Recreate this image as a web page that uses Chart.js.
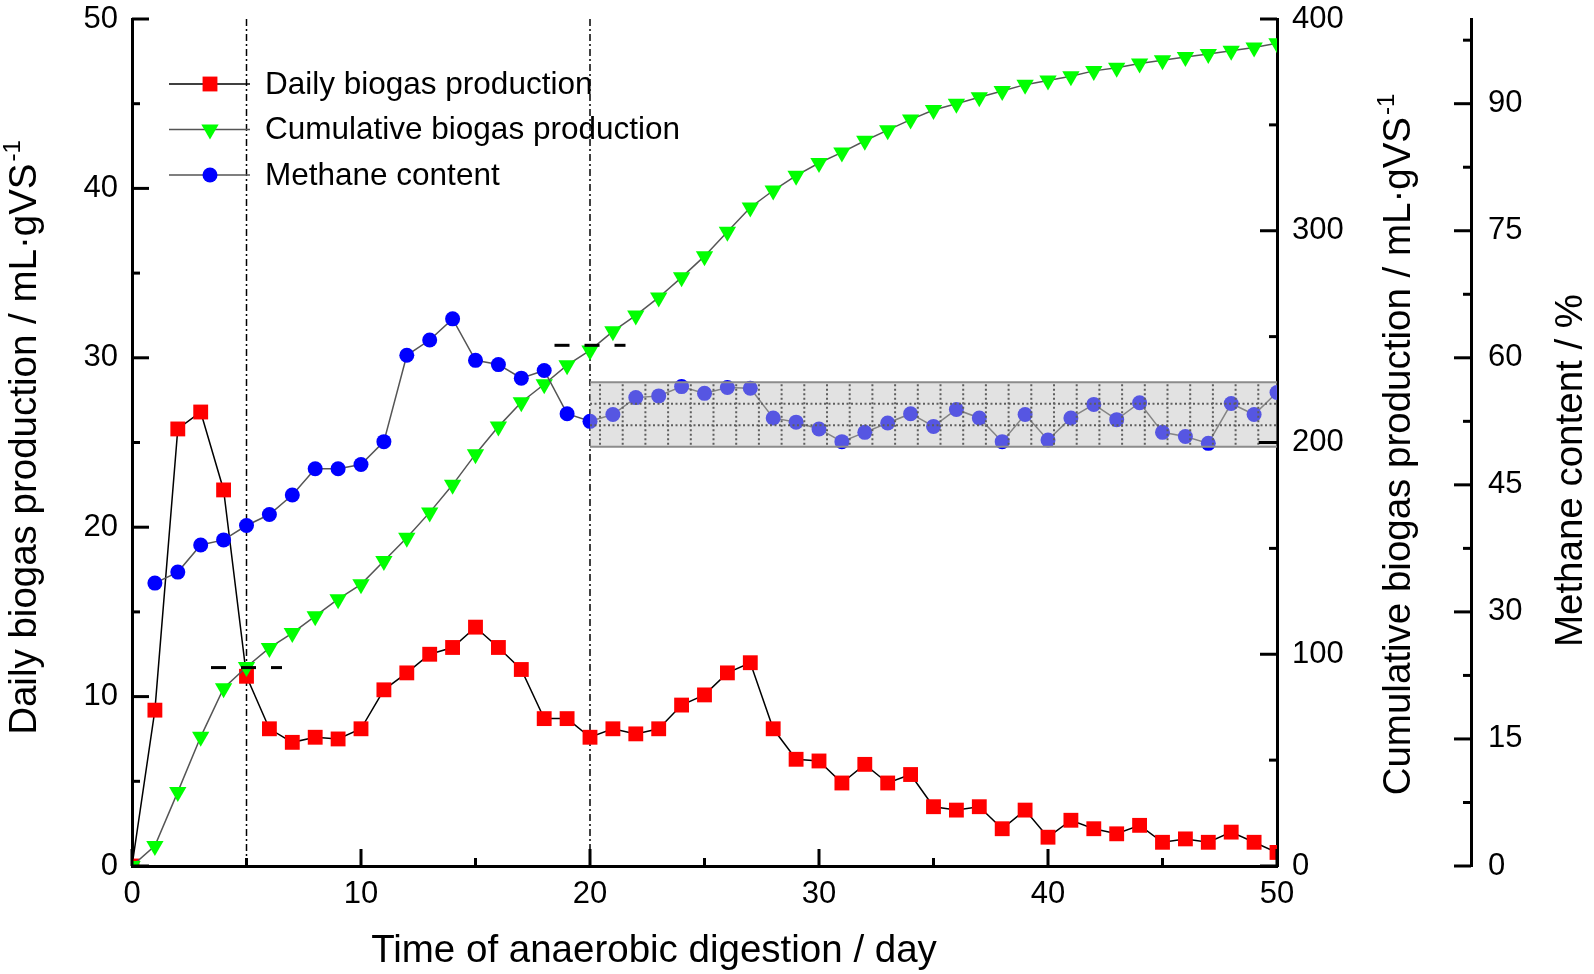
<!DOCTYPE html>
<html>
<head>
<meta charset="utf-8">
<script src="https://cdn.jsdelivr.net/npm/chart.js@4.4.0/dist/chart.umd.min.js"></script>
<style>
    html, body { margin: 0; padding: 0; background: #fff; }
    #wrap { width: 1594px; height: 974px; }
</style>
</head>
<body>
<div id="wrap"><canvas id="biogasChart"></canvas></div>
<script>
// data
const days = [0, 1, 2, 3, 4, 5, 6, 7, 8, 9, 10, 11, 12, 13, 14, 15, 16, 17, 18, 19, 20,
    21, 22, 23, 24, 25, 26, 27, 28, 29, 30, 31, 32, 33, 34, 35, 36, 37, 38, 39, 40,
    41, 42, 43, 44, 45, 46, 47, 48, 49, 50];
const dailyBiogas = [0, 9.2, 25.8, 26.8, 22.2, 11.2, 8.1, 7.3, 7.6, 7.5, 8.1,
    10.4, 11.4, 12.5, 12.9, 14.1, 12.9, 11.6, 8.7, 8.7, 7.6,
    8.1, 7.8, 8.1, 9.5, 10.1, 11.4, 12.0, 8.1, 6.3, 6.2,
    4.9, 6.0, 4.9, 5.4, 3.5, 3.3, 3.5, 2.2, 3.3, 1.7,
    2.7, 2.2, 1.9, 2.4, 1.4, 1.6, 1.4, 2.0, 1.4, 0.8];
const cumulativeBiogas = [0, 9.5, 35, 61, 84, 94, 103, 110, 118, 126, 133,
    144, 155, 167, 180, 194.5, 207.5, 219, 227.5, 236.5, 243.5,
    252.5, 260, 268.5, 278, 288, 299.5, 311, 319, 326, 332,
    337, 342.5, 347.5, 352.5, 357, 360, 363, 366, 369, 371,
    373, 375.5, 377, 379, 380.5, 382, 383.5, 385, 386.5, 388.5];
const methaneContent = [null, 33.4, 34.7, 37.9, 38.5, 40.2, 41.5, 43.8, 46.9, 46.9, 47.4,
    50.1, 60.3, 62.1, 64.6, 59.7, 59.2, 57.6, 58.5, 53.4, 52.5,
    53.3, 55.3, 55.5, 56.6, 55.8, 56.5, 56.4, 52.9, 52.4, 51.6,
    50.1, 51.2, 52.3, 53.4, 51.9, 53.9, 52.9, 50.1, 53.3, 50.3,
    52.9, 54.5, 52.7, 54.7, 51.2, 50.7, 49.9, 54.6, 53.3, 55.9];

// phase boundaries and the stable band
const phaseDays = [5, 20];
const phaseCumulative = [93.7, 245.9];
const stableDays = [20, 50];
const stableMethane = [49.5, 57.1];

// tick labels
const dayTicks = [0, 10, 20, 30, 40, 50];
const dailyTicks = [0, 10, 20, 30, 40, 50];
const cumulativeTicks = [0, 100, 200, 300, 400];
const methaneTicks = [0, 15, 30, 45, 60, 75, 90];

const seriesNames = [`Daily biogas production`, `Cumulative biogas production`, `Methane content`];
//
const FONT = `"Liberation Sans", Arial, sans-serif`;
const toPoints = (xs, ys) => xs.map((x, i) => ({ x: x, y: ys[i] }));

function setTicks(values) {
    return scale => { scale.ticks = values.map(v => ({ value: v })); };
}
// fixed axis width, no extra room for the end labels
function fixWidth(w) {
    return scale => {
        scale.width = w;
        scale.paddingTop = 0;
        scale.paddingBottom = 0;
    };
}

// grey patterned band drawn over the methane points
const stableBox = {
    id: `stableBox`,
    afterDatasetDraw(chart, args) {
        if (args.index !== 2) return;
        const { ctx } = chart;
        const xs = chart.scales.x, ys = chart.scales.y3;
        const left = xs.getPixelForValue(stableDays[0]);
        const right = xs.getPixelForValue(stableDays[1]);
        const top = ys.getPixelForValue(stableMethane[1]);
        const bottom = ys.getPixelForValue(stableMethane[0]);
        ctx.save();
        ctx.fillStyle = `rgba(190,190,190,0.45)`;
        ctx.fillRect(left, top, right - left, bottom - top);
        ctx.strokeStyle = `#5e5e5e`;
        ctx.lineWidth = 2;
        ctx.setLineDash([2, 2.5]);
        const h = (bottom - top) / 3;
        for (let k = 1; k < 3; k++) {
            ctx.beginPath();
            ctx.moveTo(left, top + k * h);
            ctx.lineTo(right, top + k * h);
            ctx.stroke();
        }
        for (let px = left + 10; px < right - 2; px += 22.7) {
            ctx.beginPath();
            ctx.moveTo(px, top + 2);
            ctx.lineTo(px, bottom);
            ctx.stroke();
        }
        ctx.setLineDash([]);
        ctx.strokeStyle = `#8c8c8c`;
        ctx.lineWidth = 2;
        ctx.beginPath();
        ctx.moveTo(left, top); ctx.lineTo(right, top);
        ctx.moveTo(left, bottom); ctx.lineTo(right, bottom);
        ctx.stroke();
        ctx.restore();
    }
};

// tick marks pointing into the plot
const tickSpec = {
    x: { step: 10, dir: `up` },
    y: { step: 10, dir: `right` },
    y2: { step: 100, dir: `left` },
    y3: { step: 15, dir: `left` }
};
const inwardTicks = {
    id: `inwardTicks`,
    afterDraw(chart) {
        const { ctx } = chart;
        ctx.save();
        ctx.strokeStyle = `#000`;
        ctx.lineWidth = 3;
        Object.keys(tickSpec).forEach(id => {
            const s = chart.scales[id];
            const spec = tickSpec[id];
            for (let v = s.min; v <= s.max + 1e-9; v += spec.step / 2) {
                const major = Math.abs(v / spec.step - Math.round(v / spec.step)) < 1e-6;
                const len = major ? 17 : 8;
                const p = s.getPixelForValue(v);
                ctx.beginPath();
                if (spec.dir === `up`) {
                    ctx.moveTo(p, s.top); ctx.lineTo(p, s.top - len);
                } else if (spec.dir === `right`) {
                    ctx.moveTo(s.right, p); ctx.lineTo(s.right + len, p);
                } else {
                    ctx.moveTo(s.left, p); ctx.lineTo(s.left - len, p);
                }
                ctx.stroke();
            }
        });
        ctx.restore();
    }
};

// axis titles, the vertical ones read bottom to top
function rotatedTitle(ctx, x, y, text, sup) {
    ctx.save();
    ctx.translate(x, y);
    ctx.rotate(-Math.PI / 2);
    ctx.font = `38.5px ${FONT}`;
    const w1 = ctx.measureText(text).width;
    ctx.font = `24px ${FONT}`;
    const w2 = sup ? ctx.measureText(sup).width + 2 : 0;
    let start = -(w1 + w2) / 2;
    ctx.textAlign = `left`;
    ctx.textBaseline = `middle`;
    ctx.fillStyle = `#000`;
    ctx.font = `38.5px ${FONT}`;
    ctx.fillText(text, start, 0);
    if (sup) {
        ctx.font = `24px ${FONT}`;
        ctx.fillText(sup, start + w1 + 2, -12);
    }
    ctx.restore();
}
const axisTitles = {
    id: `axisTitles`,
    afterDraw(chart) {
        const { ctx, chartArea, scales } = chart;
        const mid = (chartArea.top + chartArea.bottom) / 2;
        ctx.save();
        ctx.font = `38.5px ${FONT}`;
        ctx.fillStyle = `#000`;
        ctx.textAlign = `center`;
        ctx.textBaseline = `middle`;
        ctx.fillText(`Time of anaerobic digestion / day`, chartArea.left + 522, 951);
        ctx.restore();
        rotatedTitle(ctx, scales.y.left + 25, mid - 5, `Daily biogas production / mL·gVS`, `-1`);
        rotatedTitle(ctx, scales.y2.left + 122, mid + 2, `Cumulative biogas production / mL·gVS`, `-1`);
        rotatedTitle(ctx, scales.y3.left + 100, mid + 28, `Methane content / %`);
    }
};

// legend inside the plot, top left
const seriesLegend = {
    id: `seriesLegend`,
    afterDraw(chart) {
        const { ctx } = chart;
        const rows = [84, 129.5, 175];
        ctx.save();
        chart.data.datasets.slice(0, 3).forEach((ds, i) => {
            const y = rows[i];
            ctx.strokeStyle = ds.borderColor;
            ctx.lineWidth = 1.5;
            ctx.beginPath();
            ctx.moveTo(169, y); ctx.lineTo(250, y);
            ctx.stroke();
            ctx.fillStyle = ds.pointBackgroundColor;
            ctx.strokeStyle = ds.pointBackgroundColor;
            Chart.helpers.drawPoint(ctx, {
                pointStyle: ds.pointStyle,
                radius: ds.pointRadius,
                rotation: ds.pointRotation || 0,
                borderWidth: 0
            }, 210, y);
            ctx.fillStyle = `#000`;
            ctx.font = `31.5px ${FONT}`;
            ctx.textAlign = `left`;
            ctx.textBaseline = `middle`;
            ctx.fillText(seriesNames[i], 265, y + 1);
        });
        ctx.restore();
    }
};

const phaseLines = phaseDays.map(d => ({
    data: [{ x: d, y: 0 }, { x: d, y: 50 }],
    yAxisID: `y`,
    borderColor: `#000`,
    borderWidth: 1.5,
    borderDash: [7, 3, 2, 3],
    pointRadius: 0,
    order: 6
}));
const phaseMarks = phaseDays.map((d, i) => ({
    data: [{ x: d - 1.55, y: phaseCumulative[i] }, { x: d + 1.55, y: phaseCumulative[i] }],
    yAxisID: `y2`,
    borderColor: `#000`,
    borderWidth: 3,
    borderDash: [15, 15],
    pointRadius: 0,
    order: 1
}));

new Chart(document.getElementById(`biogasChart`), {
    type: `line`,
    data: {
        datasets: [
            {
                label: seriesNames[0],
                data: toPoints(days, dailyBiogas),
                yAxisID: `y`,
                borderColor: `#000`,
                borderWidth: 1.5,
                pointStyle: `rect`,
                pointRadius: 10.5,
                pointBackgroundColor: `#ff0000`,
                pointBorderWidth: 0,
                order: 5
            },
            {
                label: seriesNames[1],
                data: toPoints(days, cumulativeBiogas),
                yAxisID: `y2`,
                borderColor: `#555`,
                borderWidth: 1.5,
                pointStyle: `triangle`,
                pointRotation: 180,
                pointRadius: 10,
                pointBackgroundColor: `#00ff00`,
                pointBorderWidth: 0,
                order: 4
            },
            {
                label: seriesNames[2],
                data: toPoints(days, methaneContent),
                yAxisID: `y3`,
                borderColor: `#555`,
                borderWidth: 1.5,
                pointStyle: `circle`,
                pointRadius: 7.5,
                pointBackgroundColor: `#0000ff`,
                pointBorderWidth: 0,
                order: 3
            },
            ...phaseLines,
            ...phaseMarks,
            {
                data: [{ x: 49.2, y: 50 }, { x: 50, y: 50 }],
                yAxisID: `y3`,
                borderColor: `#000`,
                borderWidth: 3,
                pointRadius: 0,
                order: 0
            }
        ]
    },
    options: {
        responsive: true,
        maintainAspectRatio: false,
        animation: false,
        layout: { padding: { top: 19, left: 0, right: 0, bottom: 0 } },
        plugins: {
            legend: { display: false },
            tooltip: { enabled: false }
        },
        scales: {
            x: {
                type: `linear`,
                min: 0,
                max: 50,
                afterBuildTicks: setTicks(dayTicks),
                afterFit: scale => { scale.height = 108; },
                ticks: { font: { family: FONT, size: 31 }, color: `#000`, padding: 10 },
                grid: { display: false, drawTicks: false },
                border: { color: `#000`, width: 3 }
            },
            y: {
                position: `left`,
                min: 0,
                max: 50,
                afterBuildTicks: setTicks(dailyTicks),
                afterFit: fixWidth(132),
                ticks: { font: { family: FONT, size: 31 }, color: `#000`, padding: 14 },
                grid: { display: false, drawTicks: false },
                border: { color: `#000`, width: 3 }
            },
            y2: {
                position: `right`,
                min: 0,
                max: 400,
                weight: 0,
                afterBuildTicks: setTicks(cumulativeTicks),
                afterFit: fixWidth(194),
                ticks: { font: { family: FONT, size: 31 }, color: `#000`, padding: 15 },
                grid: { display: false, drawTicks: false },
                border: { color: `#000`, width: 3 }
            },
            y3: {
                position: `right`,
                min: 0,
                max: 100,
                weight: 1,
                afterBuildTicks: setTicks(methaneTicks),
                afterFit: fixWidth(123),
                ticks: { font: { family: FONT, size: 31 }, color: `#000`, padding: 17 },
                grid: { display: false, drawTicks: false },
                border: { color: `#000`, width: 3 }
            }
        }
    },
    plugins: [stableBox, inwardTicks, axisTitles, seriesLegend]
});
</script>
</body>
</html>
